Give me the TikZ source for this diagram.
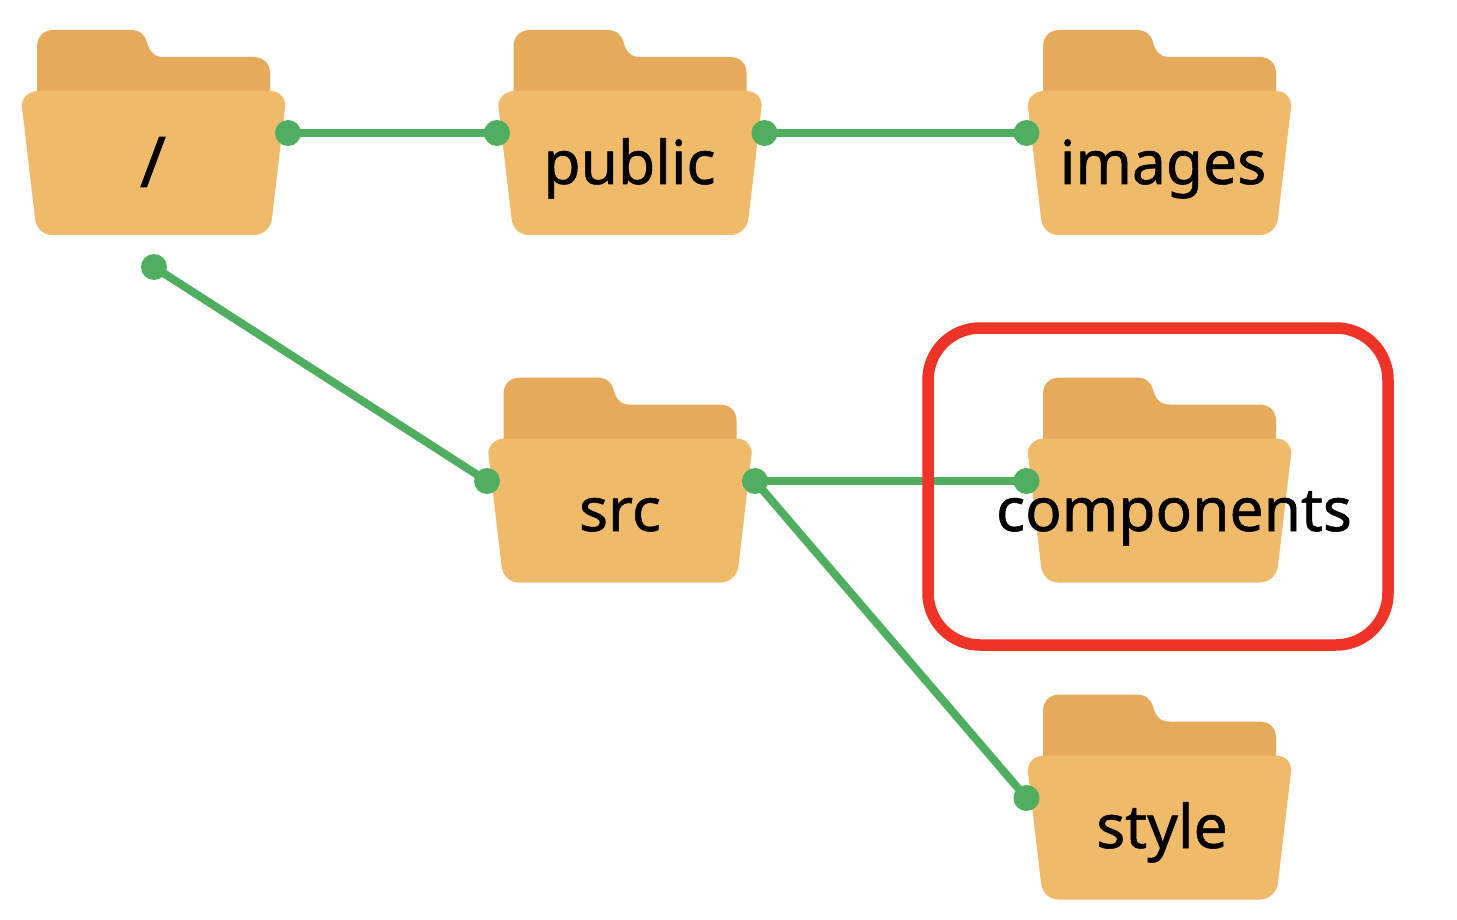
\documentclass[tikz,border=0pt]{standalone}
\usepackage{fontspec}
\setmainfont{Noto Sans}
\newfontfamily\lblfont[FakeBold=0.9]{Noto Sans}
\definecolor{folderback}{HTML}{E6AA5C}
\definecolor{folderfront}{HTML}{EFBA69}
\definecolor{linkgreen}{HTML}{4FAE5F}
\definecolor{boxred}{HTML}{EE3426}
\definecolor{paper}{HTML}{FEFEFE}
\tikzset{
  x=1pt,y=-1pt,
  dot/.style={circle,fill=linkgreen,minimum size=26pt,inner sep=0pt},
  link/.style={draw=linkgreen,line width=8pt},
  lbl/.style={anchor=base,font=\lblfont\fontsize{60.5}{62}\selectfont,text=black,inner sep=0pt},
  pics/folder/.style={code={
    \fill[folderback] (15,99) -- (15,-44)
      .. controls (15,-55) and (22,-61) .. (32,-61) -- (108,-61)
      .. controls (118,-61) and (123,-56) .. (125,-49)
      .. controls (127,-40) and (132,-34) .. (141,-34) -- (231,-34)
      .. controls (242,-34) and (248,-27) .. (248,-18) -- (248,99) -- cycle;
    \fill[folderfront] (16,0) -- (248,0)
      .. controls (258,0) and (264,8) .. (263,16)
      -- (250,127) .. controls (249,137) and (241,144) .. (232,144)
      -- (30,144) .. controls (21,144) and (14,137) .. (13,127)
      -- (0,16) .. controls (-1,8) and (6,0) .. (16,0) -- cycle;
  }}
}
\begin{document}
\begin{tikzpicture}
\useasboundingbox[fill=paper] (0,0) rectangle (1457,920);
\pic at (22,91) {folder};
\pic at (498.5,91) {folder};
\pic at (1028,91) {folder};
\pic at (488.5,438.5) {folder};
\pic at (1028,438.5) {folder};
\pic at (1028,755.5) {folder};
\node[lbl,font=\lblfont\fontsize{70}{70}\selectfont] (root) at (153,187) {/};
\node[lbl] (public) at (629.5,184) {public};
\node[lbl] (images) at (1163,184) {images};
\node[lbl] (src) at (620,531) {src};
\node[lbl] (components) at (1174,531) {components};
\node[lbl] (style) at (1162,848) {style};
\node[dot] (d1) at (288,133) {};
\node[dot] (d2) at (497,133) {};
\node[dot] (d3) at (764.5,133) {};
\node[dot] (d4) at (1026.5,133) {};
\node[dot] (d5) at (154,267) {};
\node[dot] (d6) at (487,481) {};
\node[dot] (d7) at (755,481) {};
\node[dot] (d8) at (1026.5,481) {};
\node[dot] (d9) at (1026.5,798) {};
\draw[link] (d1.center) -- (d2.center);
\draw[link] (d3.center) -- (d4.center);
\draw[link] (d5.center) -- (d6.center);
\draw[link] (d7.center) -- (d8.center);
\draw[link] (d7.center) -- (d9.center);
\draw[draw=boxred,line width=11.5pt,rounded corners=52pt] (928,328) rectangle (1388,645);
\end{tikzpicture}
\end{document}
